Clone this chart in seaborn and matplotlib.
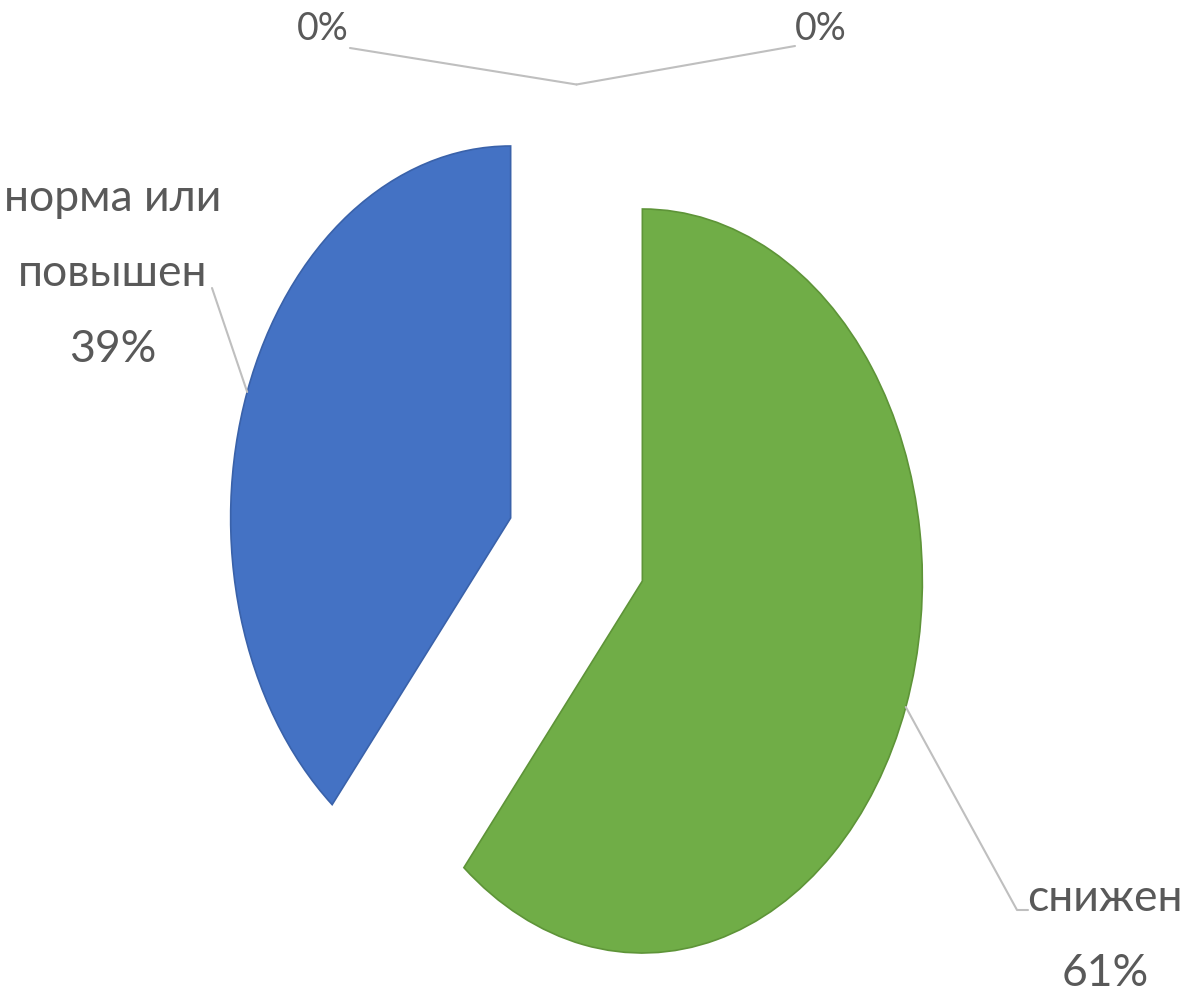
import numpy as np
import matplotlib
matplotlib.use("Agg")
import matplotlib.pyplot as plt
import seaborn as sns

# ---- data ----
categories = ["снижен", "норма или повышен", "", ""]
values = [61, 39, 0, 0]
label_names = ["снижен", "норма или\nповышен", "", ""]
pct_labels = ["61%", "39%", "0%", "0%"]

# ---- style ----
colors = ["#70AD47", "#4472C4", "#A5A5A5", "#FFC000"]
edges = ["#5E9438", "#3A62AA", "none", "none"]
edge_widths = [1.2, 1.2, 0, 0]
explode = [0.25, 0.25, 0.25, 0.25]
font_sizes = [32, 32, 27, 27]

sns.set_theme(style="white")
plt.rcParams["font.family"] = ["Lato", "DejaVu Sans"]

W, H = 1182, 994
fig = plt.figure(figsize=(W / 100, H / 100), dpi=100)
ax = fig.add_axes([0, 0, 1, 1])

CX, CY, RX, RY = 576.5, 549.5, 280.0, 372.0


def d(px, py):
    return ((px - CX) / RX, (CY - py) / RY)


wedges, _ = ax.pie(values, colors=colors, explode=explode, startangle=90,
                   counterclock=False, radius=1.0)
for w, ec, lw in zip(wedges, edges, edge_widths):
    w.set_edgecolor(ec)
    w.set_linewidth(lw)

ax.set_aspect("auto")
ax.set_xlim(-CX / RX, (W - CX) / RX)
ax.set_ylim(-(H - CY) / RY, CY / RY)
ax.axis("off")

text_color = "#595959"
line_color = "#BFBFBF"

# label layout (pixel positions)
label_pos = [(1105, 936), (113, 274), (323, 29), (821, 29)]
leader_end = [[(1028, 910), (1017, 910)], [(212, 288)], [(350, 48)], [(795, 46)]]

for i, w in enumerate(wedges):
    name = label_names[i]
    txt = (name + "\n" + pct_labels[i]) if name else pct_labels[i]
    tx, ty = d(*label_pos[i])
    ax.text(tx, ty, txt, ha="center", va="center", fontsize=font_sizes[i],
            color=text_color, linespacing=2.05)
    # anchor on the wedge edge at mid-angle
    tm = np.deg2rad((w.theta1 + w.theta2) / 2)
    cx, cy = w.center
    ax_, ay_ = cx + w.r * np.cos(tm), cy + w.r * np.sin(tm)
    pts = [d(*p) for p in leader_end[i]]
    xs = [p[0] for p in pts] + [ax_]
    ys = [p[1] for p in pts] + [ay_]
    ax.plot(xs, ys, color=line_color, lw=1.5, solid_capstyle="round")

fig.savefig("out.png", dpi=100, facecolor="white")
